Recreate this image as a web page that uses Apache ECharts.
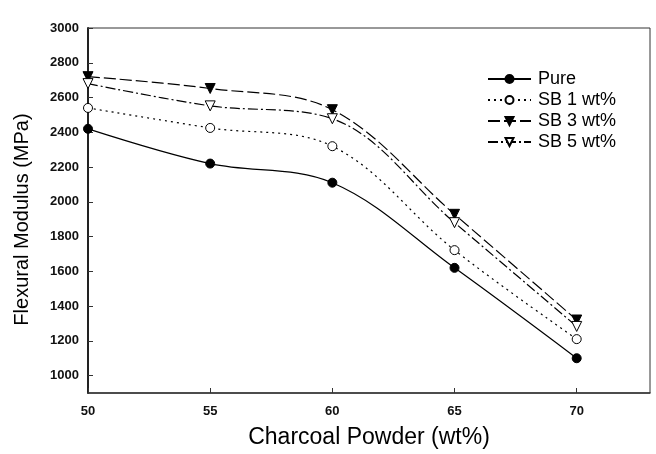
<!DOCTYPE html>
<html><head><meta charset="utf-8">
<script src="https://cdn.jsdelivr.net/npm/echarts@6/dist/echarts.min.js"></script>
<style>html,body{margin:0;padding:0;background:#fff}#c{width:656px;height:454px}</style>
</head><body><div id="c"></div>
<script>
const xValues = [50, 55, 60, 65, 70];
const pure = [2420, 2220, 2110, 1620, 1100];
const sb1 = [2540, 2425, 2320, 1722, 1210];
const sb3 = [2720, 2652, 2530, 1928, 1320];
const sb5 = [2680, 2552, 2478, 1880, 1283];
const yTicks = [1000, 1200, 1400, 1600, 1800, 2000, 2200, 2400, 2600, 2800, 3000];
const xTicks = [50, 55, 60, 65, 70];
const names = ['Pure', 'SB 1 wt%', 'SB 3 wt%', 'SB 5 wt%'];

const font = 'Liberation Sans, Arial, sans-serif';
function mk(name, vals, symbol, fill, dash, size, rot) {
  return {
    name, type: 'line', smooth: 0.35,
    data: xValues.map((x, i) => [x, vals[i]]),
    symbol, symbolSize: size, symbolRotate: rot, showSymbol: true,
    itemStyle: { color: fill, borderColor: '#000', borderWidth: 1 },
    lineStyle: { color: '#000', width: 1.2, type: dash },
    color: '#000', z: 3
  };
}
const chart = echarts.init(document.getElementById('c'), null, { renderer: 'canvas' });
chart.setOption({
  animation: false,
  backgroundColor: '#fff',
  grid: { left: 88, right: 6, top: 28, bottom: 60, show: true, borderColor: '#333', borderWidth: 1, containLabel: false },
  legend: {
    orient: 'vertical', left: 482, top: 65, itemWidth: 43, itemHeight: 10, itemGap: 3,
    textStyle: { fontFamily: font, fontSize: 18, color: '#000', padding: [0, 0, 0, 2] },
    data: names.map(n => ({ name: n }))
  },
  xAxis: {
    type: 'value', min: 50, max: 73, interval: 5,
    axisLine: { show: true, lineStyle: { color: '#333', width: 1.5 } },
    axisTick: { show: true, inside: true, length: 5, lineStyle: { color: '#333' }, customValues: xTicks },
    axisLabel: { fontFamily: font, fontSize: 13, fontWeight: 'bold', color: '#111', margin: 12, customValues: xTicks, formatter: v => String(v) },
    splitLine: { show: false },
    name: 'Charcoal Powder (wt%)', nameLocation: 'middle', nameGap: 33,
    nameTextStyle: { fontFamily: font, fontSize: 23, color: '#000' }
  },
  yAxis: {
    type: 'value', min: 900, max: 3000,
    axisLine: { show: true, lineStyle: { color: '#222', width: 2 } },
    axisTick: { show: true, inside: true, length: 5, lineStyle: { color: '#333' }, customValues: yTicks },
    axisLabel: { fontFamily: font, fontSize: 13, fontWeight: 'bold', color: '#111', margin: 9, customValues: yTicks, formatter: v => String(v) },
    splitLine: { show: false },
    name: 'Flexural Modulus (MPa)', nameLocation: 'middle', nameGap: 56, nameRotate: 90,
    nameTextStyle: { fontFamily: font, fontSize: 20, color: '#000', padding: [0, 18, 0, 0] }
  },
  series: [
    mk(names[0], pure, 'circle', '#000', 'solid', 9, 0),
    mk(names[1], sb1, 'circle', '#fff', [2, 4], 9, 0),
    mk(names[2], sb3, 'triangle', '#000', [12, 4], 10, 180),
    mk(names[3], sb5, 'triangle', '#fff', [10, 3, 2, 3], 10, 180)
  ]
});
</script></body></html>
